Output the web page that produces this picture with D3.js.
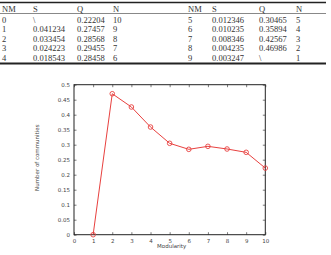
<!DOCTYPE html>
<html>
<head>
<meta charset="utf-8">
<script src="https://cdn.jsdelivr.net/npm/d3@7"></script>
<style>
  body { margin: 0; background: #fff; }
</style>
</head>
<body>
<div id="chart"></div>
<script>
// table rows (NM, S, Q, N)
const nmLeft = ["0", "1", "2", "3", "4"];
const sLeft = ["\\", "0.041234", "0.033454", "0.024223", "0.018543"];
const qLeft = ["0.22204", "0.27457", "0.28568", "0.29455", "0.28458"];
const nLeft = ["10", "9", "8", "7", "6"];
const nmRight = ["5", "6", "7", "8", "9"];
const sRight = ["0.012346", "0.010235", "0.008346", "0.004235", "0.003247"];
const qRight = ["0.30465", "0.35894", "0.42567", "0.46986", "\\"];
const nRight = ["5", "4", "3", "2", "1"];
const headers = ["NM", "S", "Q", "N"];

// plot series
const communities = [1, 2, 3, 4, 5, 6, 7, 8, 9, 10];
const modularity = [0, 0.46986, 0.42567, 0.35894, 0.30465, 0.28458, 0.29455, 0.28568, 0.27457, 0.22204];
const xTicks = [0, 1, 2, 3, 4, 5, 6, 7, 8, 9, 10];
const yTicks = [0, 0.05, 0.1, 0.15, 0.2, 0.25, 0.3, 0.35, 0.4, 0.45, 0.5];

const width = 331;
const height = 255;
const svg = d3.select("#chart")
    .append("svg")
    .attr("width", width)
    .attr("height", height);

//Table
const colX = [2, 33, 77, 113, 188, 212, 259, 296];
const rowY = [19.5, 29, 38.5, 48, 57.5];
const tFont = "'Liberation Serif', 'Times New Roman', serif";

svg.append("line").attr("x1", 0).attr("x2", 326).attr("y1", 2.5).attr("y2", 2.5)
    .attr("stroke", "#222").attr("stroke-width", 1.5);
svg.append("line").attr("x1", 0).attr("x2", 326).attr("y1", 13.5).attr("y2", 13.5)
    .attr("stroke", "#555").attr("stroke-width", 0.7);
svg.append("line").attr("x1", 0).attr("x2", 326).attr("y1", 63.5).attr("y2", 63.5)
    .attr("stroke", "#222").attr("stroke-width", 1.8);

headers.concat(headers).forEach((h, i) => {
    svg.append("text")
        .attr("x", colX[i]).attr("y", 11.5)
        .attr("font-family", tFont).attr("font-size", "8.5px").attr("fill", "#333")
        .text(h);
});

const cols = [nmLeft, sLeft, qLeft, nLeft, nmRight, sRight, qRight, nRight];
cols.forEach((col, c) => {
    col.forEach((v, r) => {
        svg.append("text")
            .attr("x", colX[c]).attr("y", rowY[r] + 3)
            .attr("font-family", tFont).attr("font-size", "8.5px").attr("fill", "#333")
            .text(v);
    });
});

//Plot
const plot = {l: 74, r: 265.3, t: 84.7, b: 234.7};
const xScale = d3.scaleLinear().domain([0, 10]).range([plot.l, plot.r]);
const yScale = d3.scaleLinear().domain([0, 0.5]).range([plot.b, plot.t]);
const aFont = "'DejaVu Sans', Arial, sans-serif";

const xAxis = d3.axisBottom(xScale).tickValues(xTicks).tickSize(-2.5).tickPadding(4)
    .tickFormat(d3.format("d"));
const gx = svg.append("g").attr("transform", `translate(0, ${plot.b})`).call(xAxis);
const yAxis = d3.axisLeft(yScale).tickValues(yTicks).tickSize(-2.5).tickPadding(4)
    .tickFormat(d => d === 0 ? "0" : String(+d.toFixed(2)));
const gy = svg.append("g").attr("transform", `translate(${plot.l}, 0)`).call(yAxis);
const gxt = svg.append("g").attr("transform", `translate(0, ${plot.t})`)
    .call(d3.axisTop(xScale).tickValues(xTicks).tickSize(-2.5).tickFormat(""));
const gyr = svg.append("g").attr("transform", `translate(${plot.r}, 0)`)
    .call(d3.axisRight(yScale).tickValues(yTicks).tickSize(-2.5).tickFormat(""));

[gx, gy, gxt, gyr].forEach(g => {
    g.select(".domain").remove();
    g.selectAll("line").attr("stroke", "#444").attr("stroke-width", 0.7);
    g.selectAll("text").attr("font-family", aFont).attr("font-size", "5.5px").attr("fill", "#444");
});

svg.append("rect")
    .attr("x", plot.l).attr("y", plot.t)
    .attr("width", plot.r - plot.l).attr("height", plot.b - plot.t)
    .attr("fill", "none").attr("stroke", "#222").attr("stroke-width", 1);

const points = communities.map((c, i) => ({n: c, q: modularity[i]}));
const makeLine = d3.line().x(d => xScale(d.n)).y(d => yScale(d.q));

svg.append("path")
    .attr("d", makeLine(points))
    .attr("fill", "none")
    .attr("stroke", "#e8413f")
    .attr("stroke-width", 1);

svg.selectAll(".pt")
    .data(points)
    .enter()
    .append("circle")
    .attr("cx", d => xScale(d.n))
    .attr("cy", d => yScale(d.q))
    .attr("r", 2.3)
    .attr("fill", "none")
    .attr("stroke", "#e8413f")
    .attr("stroke-width", 0.9);

svg.append("text")
    .attr("x", (plot.l + plot.r) / 2 + 2)
    .attr("y", 248)
    .attr("text-anchor", "middle")
    .attr("font-family", aFont).attr("font-size", "5.5px").attr("fill", "#444")
    .text("Modularity");

svg.append("text")
    .attr("transform", "rotate(-90)")
    .attr("x", -(plot.t + plot.b) / 2 + 2)
    .attr("y", 39)
    .attr("text-anchor", "middle")
    .attr("font-family", aFont).attr("font-size", "5.5px").attr("fill", "#444")
    .text("Number of communities");
</script>
</body>
</html>
